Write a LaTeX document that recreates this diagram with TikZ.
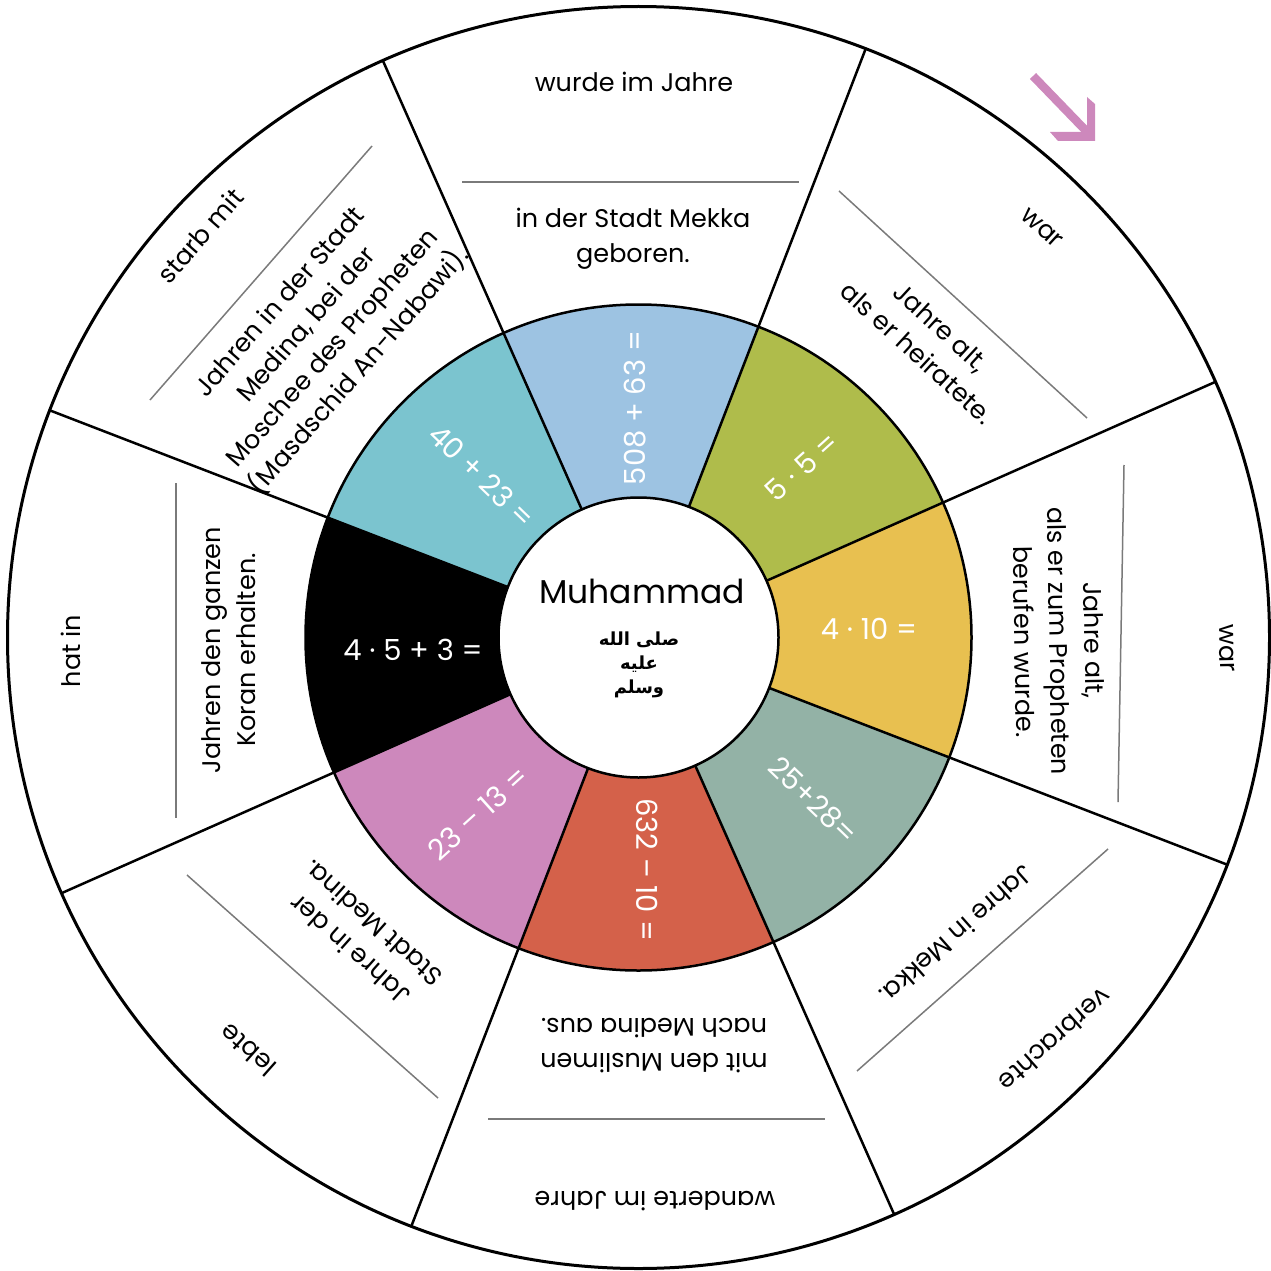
\documentclass[tikz,border=0pt]{standalone}
\usepackage{fontspec}
\setmainfont{Poppins}
\newfontfamily\arabicfont[Script=Arabic]{DejaVu Sans}
\TeXXeTstate=1
\usetikzlibrary{calc}
\definecolor{cblue}{HTML}{9DC3E2}
\definecolor{colive}{HTML}{AFBC4B}
\definecolor{cyellow}{HTML}{E8C050}
\definecolor{csage}{HTML}{93B2A6}
\definecolor{cred}{HTML}{D4614A}
\definecolor{cpink}{HTML}{CD88BC}
\definecolor{cteal}{HTML}{7BC4CF}
\definecolor{cgrey}{HTML}{7A7A7A}
\begin{document}
\begin{tikzpicture}[x=1pt,y=1pt,
  outertext/.style={font=\fontsize{25.5}{35}\selectfont, align=center, inner sep=0pt, text=black},
  sumtext/.style={font=\fontsize{29}{36}\selectfont, inner sep=0pt, text=white},
  guide/.style={draw=cgrey, line width=1.5pt},
  spoke/.style={draw=black, line width=2.5pt},
]
\useasboundingbox (0,0) rectangle (1271,-1271);
\coordinate (C) at (638.5,-637.5);
\def\rinner{140}\def\rmid{333}\def\router{631}
% coloured ring
\foreach \a/\col in {68.9/cblue, 23.9/colive, -21.1/cyellow, -66.1/csage, -111.1/cred, -156.1/cpink, 158.9/black, 113.9/cteal}{
  \fill[\col] ($(C)+(\a:\rinner)$) arc[start angle=\a, end angle={\a+45}, radius=\rinner]
     -- ($(C)+({\a+45}:\rmid)$) arc[start angle={\a+45}, end angle=\a, radius=\rmid] -- cycle;
}
% spokes
\foreach \a in {23.9,68.9,113.9,158.9,203.9,248.9,293.9,338.9}{
  \draw[spoke] ($(C)+(\a:\rinner)$) -- ($(C)+(\a:\router)$);
}
\draw[black, line width=2.5pt] (C) circle[radius=\rmid];
\draw[black, line width=2.5pt, fill=white] (C) circle[radius=\rinner];
\draw[black, line width=3pt] (C) circle[radius=\router];

% centre
\node[font=\fontsize{33}{40}\selectfont, inner sep=0pt] (name) at (642,-591) {Muhammad};
\node[inner sep=0pt, align=center, font=\arabicfont\bfseries\fontsize{18}{24}\selectfont] (salla) at (639,-665)
  {\beginR صلى الله\endR\\\beginR عليه\endR\\\beginR وسلم\endR};

% sums
\node[sumtext, rotate=90]  (s1) at (635,-408) {508 + 63 =};
\node[sumtext, rotate=42]  (s2) at (802,-467) {5 · 5 =};
\node[sumtext]             (s3) at (869,-629) {4 · 10 =};
\node[sumtext, rotate=-44] (s4) at (813,-800) {25+28=};
\node[sumtext, rotate=-90] (s5) at (647,-870) {632 – 10 =};
\node[sumtext, rotate=42]  (s6) at (478,-813) {23 – 13 =};
\node[sumtext]             (s7) at (413,-650) {4 · 5 + 3 =};
\node[sumtext, rotate=-44] (s8) at (482,-476) {40 + 23 =};

% top
\node[outertext] (t1) at (634,-82) {wurde im Jahre};
\draw[guide] (462,-182) -- (799,-182);
\node[outertext] (t2) at (633,-239) {in der Stadt Mekka\\geboren.};
% top right
\node[outertext, rotate=-42.5] (tr1) at (1042,-228) {war};
\draw[guide] (839,-191) -- (1087,-418);
\node[outertext, rotate=-42.5] (tr2) at (929,-340) {Jahre alt,\\als er heiratete.};
% right
\node[outertext, rotate=-89] (r1) at (1227,-648) {war};
\draw[guide] (1124,-465) -- (1118,-802);
\node[outertext, rotate=-89] (r2) at (1059,-641) {Jahre alt,\\als er zum Propheten\\berufen wurde.};
% bottom right
\node[outertext, rotate=-138.5] (br1) at (1055,-1040) {verbrachte};
\draw[guide] (1108,-849) -- (857,-1071);
\node[outertext, rotate=-138.5] (br2) at (957,-935) {Jahre in Mekka.};
% bottom
\node[outertext, rotate=180] (b1) at (655,-1201) {wanderte im Jahre};
\draw[guide] (488,-1119) -- (825,-1119);
\node[outertext, rotate=180] (b2) at (654,-1046) {mit den Muslimen\\nach Medina aus.};
% bottom left
\node[outertext, rotate=138.4] (bl1) at (248,-1050) {lebte};
\draw[guide] (187,-875) -- (438,-1098);
\node[outertext, rotate=138.4] (bl2) at (361,-937) {Jahre in der\\Stadt Medina.};
% left
\node[outertext, rotate=90] (l1) at (71,-651) {hat in};
\draw[guide] (176,-483) -- (176,-818);
\node[outertext, rotate=90] (l2) at (229,-650) {Jahren den ganzen\\Koran erhalten.};
% top left
\node[outertext, rotate=48.8] (tl1) at (200,-236) {starb mit};
\draw[guide] (150,-400) -- (372,-146);
\node[outertext, rotate=48.8] (tl2) at (320,-337) {Jahren in der Stadt\\Medina, bei der\\Moschee des Propheten\\(Masdschid An-Nabawi).};

% arrow
\coordinate (arrowtail) at (1033,-76);
\coordinate (arrowend) at (1091,-136);
\draw[cpink, line width=8.5pt] (arrowtail) -- (arrowend);
\fill[cpink] (1050,-132) -- (1087,-132) -- (1087,-97) -- (1095,-104) -- (1095,-141) -- (1058,-141) -- cycle;
\end{tikzpicture}
\end{document}
